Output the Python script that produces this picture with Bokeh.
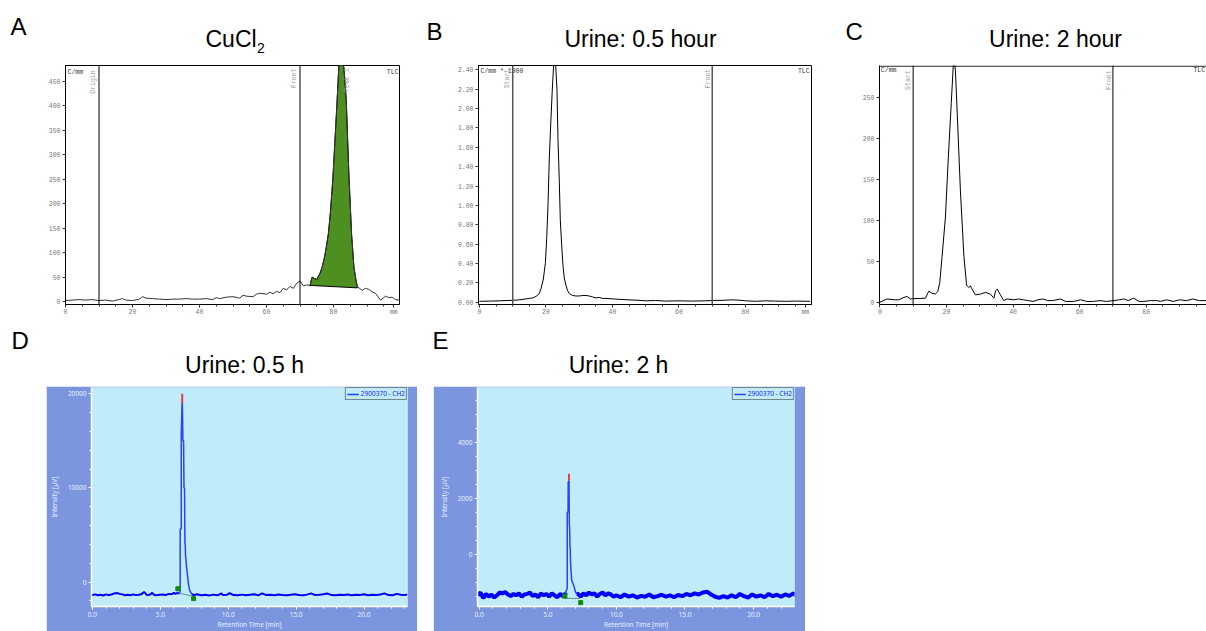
import math
from bokeh.plotting import figure
from bokeh.layouts import column, row
from bokeh.models import (Range1d, Span, FixedTicker, SingleIntervalTicker,
                          NumeralTickFormatter, Spacer)
from bokeh.core.properties import value
from bokeh.embed import file_html
from bokeh.resources import INLINE

# ---------------- data ----------------
panel_letters = ["A", "B", "C", "D", "E"]
panel_titles = ["CuCl", "Urine: 0.5 hour", "Urine: 2 hour", "Urine: 0.5 h", "Urine: 2 h"]
subscript = "2"

tlc_line_pos = [10, 70]
a_line_names = ["Origin", "Front"]
bc_line_names = ["Start", "Front"]

# Panel A (CuCl2 TLC scan)
a_x = [0, 2, 4, 6, 8, 10, 12, 14, 16, 17, 18, 20, 22, 23, 24, 26, 28, 30, 32, 34,
       36, 38, 40, 42, 44, 45, 46, 48, 50, 52, 53, 54, 56, 57, 58, 60, 61, 62, 63, 64,
       65, 66, 67, 68, 69, 70, 71, 72, 73]
a_y = [2, 3, 4, 3, 4, 2, 3, 1, 4, 6, 3, 2, 5, 10, 7, 6, 5, 4, 5, 5,
       6, 5, 5, 6, 4, 8, 6, 9, 10, 7, 13, 11, 10, 15, 17, 15, 19, 16, 21, 18,
       27, 24, 31, 27, 37, 42, 32, 34, 33]
a_peak_x = [73, 73.6, 74.3, 75, 76, 76.6, 77.3, 77.8, 78.5, 79.1, 79.8, 80.4, 81.0,
            81.6, 82.3, 83.1, 83.8, 84.6, 85.4, 86.1, 86.6, 87.1]
a_peak_y = [33, 50, 47, 45, 58, 70, 90, 109, 140, 184, 250, 325, 400,
            482, 490, 478, 412, 258, 137, 70, 48, 30]
a_tail_x = [87.1, 88, 88.6, 89.5, 90.5, 91.5, 92.5, 93.3, 94, 95, 95.5, 96.5, 97.5, 98.5, 99.7]
a_tail_y = [30, 26, 23, 27, 25, 20, 17, 10, 3, 8, 11, 8, 9, 4, 3]
a_base_x = [73, 87.1]
a_base_y = [33, 28]
a_peak_name = "Peak 1"
a_peak_center = 84.1

# Panel B (urine 0.5 h TLC scan, C/mm * 1000)
b_x = [0, 3, 6, 8, 10, 12, 14, 15, 16, 17, 18, 18.5, 19.2, 19.8, 20.2, 20.6, 21, 21.5,
       21.9, 22.3, 22.9, 23.3, 23.6, 24.0, 24.3, 24.7, 25.1, 25.5, 26, 26.5, 27, 28,
       29, 30, 31, 32, 33, 34, 35, 36, 37, 38, 40, 42, 45, 48, 50, 53, 56, 60, 64, 68,
       70, 73, 76, 78, 80, 83, 86, 89, 92, 95, 99.4]
b_y = [0.01, 0.012, 0.015, 0.018, 0.02, 0.025, 0.035, 0.04, 0.045, 0.06, 0.09, 0.14,
       0.24, 0.4, 0.65, 1.0, 1.49, 1.9, 2.2, 2.45, 2.45, 2.2, 1.69, 1.25, 0.85, 0.6,
       0.38, 0.25, 0.175, 0.12, 0.09, 0.07, 0.065, 0.065, 0.07, 0.07, 0.065, 0.055,
       0.045, 0.05, 0.04, 0.04, 0.035, 0.03, 0.025, 0.02, 0.015, 0.018, 0.012, 0.015,
       0.012, 0.015, 0.018, 0.02, 0.025, 0.022, 0.015, 0.01, 0.015, 0.012, 0.01, 0.012, 0.01]

# Panel C (urine 2 h TLC scan)
c_x = [0, 2.15, 4.2, 5.7, 7.25, 8.2, 9.2, 10.2, 11.75, 13.7, 14.7, 15.65, 16.65, 17.4,
       18.0, 18.7, 19.7, 20.55, 21.45, 22.2, 22.7, 23.4, 24.2, 25.25, 26.05, 26.7, 27.2,
       27.7, 28.7, 30.25, 31.7, 33.2, 34.25, 34.75, 35.25, 36.2, 37.2, 38.2, 40.15, 41.6,
       43.1, 44.55, 46, 47.5, 48.95, 50.4, 51.9, 54.25, 55.8, 58.25, 60.3, 62.15, 64.2,
       66.1, 68.05, 70.3, 71.95, 73.25, 74.6, 76.25, 77.85, 79.3, 81.25, 83.2, 84.2,
       86.15, 88.1, 90.05, 92.05, 94, 95.95, 98.1]
c_y = [0, 4, 3, 3, 6, 7, 4, 4.5, 4.5, 5, 13.5, 11, 10, 13, 24, 56, 104, 175, 243, 300,
       283, 215, 136, 56, 21, 18, 20, 16, 9, 10, 12, 10, 5, 14, 16, 9, 2, 4, 3, 4, 3, 2,
       1, 3, 4, 2, 2, 4, 1, 1, 3, 1, 1, 2, 1, 2, 3, 4, 2, 5, 1, 1, 2, 2, 1, 3, 1, 3, 2,
       4, 2, 2]

# Panel D (HPLC, urine 0.5 h)
d_pre_t = [-0.05, 0.2, 0.4, 0.6, 0.8, 1.0, 1.2, 1.4, 1.6, 1.8, 2.0, 2.2, 2.4, 2.6, 2.8,
           3.0, 3.2, 3.4, 3.6, 3.8, 3.9, 4.0, 4.2, 4.4, 4.5, 4.6, 4.8, 5.0, 5.2, 5.4,
           5.6, 5.8, 6.0, 6.1, 6.2, 6.3, 6.35]
d_pre_v = [-1400, -1300, -1400, -1350, -1420, -1300, -1380, -1320, -1200, -1150, -1250,
           -1300, -1400, -1350, -1400, -1300, -1380, -1350, -1300, -1050, -1200, -1380,
           -1350, -1150, -1300, -1400, -1380, -1350, -1320, -1380, -1250, -1300, -1150,
           -1250, -1200, -1100, -1250]
d_peak_t = [6.40, 6.46, 6.46, 6.54, 6.54, 6.60, 6.62, 6.66, 6.71, 6.74, 6.78, 6.81, 6.83,
            6.86, 6.88, 6.93, 6.98, 7.02, 7.07, 7.13, 7.20, 7.32]
d_peak_v = [-1150, -1000, 5600, 5700, 15700, 19000, 19000, 15000, 15000, 10000, 10000,
            4200, 4000, 2600, 2500, 1500, 1000, 400, -200, -700, -1000, -1250]
d_post_t = [7.45, 7.7, 8.0, 8.3, 8.6, 8.9, 9.2, 9.5, 9.6, 9.9, 10.1, 10.4, 10.7, 11.0,
            11.3, 11.6, 11.9, 12.2, 12.5, 12.8, 13.1, 13.4, 13.7, 14.0, 14.3, 14.6, 14.9,
            15.2, 15.5, 15.8, 16.1, 16.4, 16.7, 17.0, 17.3, 17.6, 17.9, 18.2, 18.5, 18.8,
            19.1, 19.4, 19.7, 20.0, 20.3, 20.6, 20.9, 21.2, 21.5, 21.8, 22.1, 22.4, 22.7,
            23.0, 23.2]
d_post_v = [-1380, -1300, -1400, -1350, -1420, -1330, -1400, -1200, -1380, -1350, -1180,
            -1380, -1400, -1330, -1400, -1350, -1300, -1400, -1200, -1380, -1350, -1400,
            -1320, -1380, -1400, -1350, -1300, -1380, -1400, -1330, -1200, -1380, -1350,
            -1300, -1200, -1380, -1400, -1350, -1380, -1320, -1400, -1350, -1380, -1300,
            -1400, -1350, -1380, -1320, -1200, -1380, -1400, -1250, -1350, -1380, -1300]
d_apex_t = [6.61]
d_apex_lo = [19000]
d_apex_hi = [20000]
d_mark_t = [6.29, 7.45]
d_mark_v = [-700, -1750]
d_base_t = [6.3, 7.42]
d_base_v = [-1150, -1500]

# Panel E (HPLC, urine 2 h)
e_pre_t = [-0.1, 0.1, 0.3, 0.5, 0.7, 0.9, 1.1, 1.3, 1.5, 1.7, 1.9, 2.1, 2.3, 2.5, 2.7,
           2.9, 3.1, 3.3, 3.5, 3.7, 3.9, 4.1, 4.3, 4.5, 4.7, 4.9, 5.1, 5.3, 5.5, 5.7,
           5.9, 6.1, 6.25]
e_pre_v = [-1450, -1350, -1550, -1400, -1500, -1420, -1530, -1450, -1350, -1380, -1330,
           -1420, -1480, -1400, -1450, -1380, -1500, -1420, -1400, -1350, -1480, -1420,
           -1520, -1380, -1450, -1400, -1500, -1380, -1450, -1520, -1400, -1480, -1450]
e_peak_t = [6.30, 6.37, 6.42, 6.42, 6.48, 6.49, 6.55, 6.57, 6.59, 6.62, 6.64, 6.66, 6.70,
            6.74, 6.78, 6.85, 6.92, 7.0, 7.1]
e_peak_v = [-1350, -1250, -1200, 1500, 1550, 2600, 2650, 1100, 1000, 250, 200, -300, -600,
            -900, -950, -1050, -1150, -1300, -1400]
e_post_t = [7.2, 7.4, 7.6, 7.8, 8.0, 8.2, 8.4, 8.6, 8.8, 9.0, 9.2, 9.4, 9.6, 9.8, 10.0,
            10.3, 10.6, 10.9, 11.2, 11.5, 11.8, 12.1, 12.4, 12.7, 13.0, 13.3, 13.6, 13.9,
            14.2, 14.5, 14.8, 15.1, 15.4, 15.7, 16.0, 16.3, 16.6, 16.9, 17.2, 17.5, 17.8,
            18.1, 18.4, 18.7, 19.0, 19.3, 19.6, 19.9, 20.2, 20.5, 20.8, 21.1, 21.4, 21.7,
            22.0, 22.3, 22.6, 22.9, 23.1]
e_post_v = [-1400, -1500, -1380, -1450, -1350, -1420, -1380, -1500, -1400, -1350, -1450,
            -1380, -1420, -1500, -1450, -1520, -1420, -1500, -1450, -1530, -1470, -1500,
            -1420, -1520, -1480, -1430, -1500, -1450, -1520, -1440, -1480, -1400, -1450,
            -1380, -1420, -1350, -1320, -1420, -1500, -1540, -1480, -1530, -1450, -1520,
            -1400, -1480, -1530, -1420, -1500, -1450, -1520, -1400, -1480, -1430, -1500,
            -1420, -1470, -1380, -1450]
e_apex_t = [6.55]
e_apex_lo = [2650]
e_apex_hi = [2900]
e_mark_t = [6.25, 7.4]
e_mark_v = [-1480, -1710]
e_base_t = [6.25, 7.35]
e_base_v = [-1560, -1560]

legend_name = "2900370 - CH2"

# ---------------- styles ----------------
SANS = "Liberation Sans"
MONO = "Liberation Mono"
TSANS = "Noto Sans"
OUTER_BLUE = "#7B96DF"
INNER_BLUE = "#C0ECFA"
PAGE_W = 1206


def header(height, y_top, y_bot):
    h = figure(width=PAGE_W, height=height, x_range=Range1d(0, PAGE_W),
               y_range=Range1d(y_bot, y_top), x_axis_location=None,
               y_axis_location=None, output_backend="svg", toolbar_location=None,
               min_border=0, title=None)
    h.grid.visible = False
    h.outline_line_color = None
    return h


def big_text(p, xs, ys, texts, size, align):
    p.text(x=xs, y=ys, text=texts, text_font=value(SANS), text_font_size=value(size),
           text_color="black", text_align=align, text_baseline="alphabetic")


def tlc(width, bl, br, bt, bb, xr, yr, yticks, xticks, xminor, overrides,
        yfmt=None, outline=True):
    p = figure(width=width, height=269, x_range=Range1d(*xr), y_range=Range1d(*yr),
               output_backend="svg", toolbar_location=None, title=None,
               min_border_left=bl, min_border_right=br, min_border_top=bt,
               min_border_bottom=bb)
    p.grid.visible = False
    p.outline_line_color = "black" if outline else None
    p.xaxis.ticker = FixedTicker(ticks=xticks, minor_ticks=xminor)
    p.xaxis.major_label_overrides = overrides
    p.yaxis.ticker = FixedTicker(ticks=yticks, minor_ticks=[])
    if yfmt:
        p.yaxis.formatter = NumeralTickFormatter(format=yfmt)
    for ax in (p.xaxis[0], p.yaxis[0]):
        ax.axis_line_color = "black"
        ax.major_tick_line_color = "#333333"
        ax.minor_tick_line_color = "#333333"
        ax.major_tick_in = 0
        ax.major_tick_out = 3
        ax.minor_tick_in = 0
        ax.minor_tick_out = 2
        ax.major_label_text_font = MONO
        ax.major_label_text_font_size = "6.5px"
        ax.major_label_text_color = "#777777"
        ax.major_label_standoff = 2
    p.xaxis.major_label_standoff = 1
    return p


def small_text(p, xs, ys, texts, align, baseline, color="#333333", angle=0.0):
    p.text(x=xs, y=ys, text=texts, text_font=value(MONO), text_font_size=value("6.5px"),
           text_color=color, text_align=align, text_baseline=baseline, angle=angle)


def add_lines(p, color, width):
    for pos in tlc_line_pos:
        p.add_layout(Span(location=pos, dimension="height", line_color=color,
                          line_width=width))


# ---------------- headers ----------------
hdr1 = header(56, 0, 56)
big_text(hdr1, [10], [26], [panel_letters[0]], "24px", "left")
big_text(hdr1, [426, 845], [31, 31], panel_letters[1:3], "24px", "left")
big_text(hdr1, [205], [38.5], [panel_titles[0]], "23px", "left")
big_text(hdr1, [256.5], [47], [subscript], "14px", "left")
big_text(hdr1, [640, 1055], [38.5, 38.5], panel_titles[1:3], "23px", "center")

hdr2 = header(61, 325, 386)
big_text(hdr2, [11, 432], [340, 340], panel_letters[3:5], "24px", "left")
big_text(hdr2, [244, 618], [364.5, 364.5], panel_titles[3:5], "23px", "center")

# ---------------- panel A ----------------
mm_minor = list(range(5, 100, 5))
pa = tlc(420, 65, 21, 9, 17, (0, 99.7), (-6, 482), list(range(0, 451, 50)),
         [0, 20, 40, 60, 80, 98], mm_minor, {98: "mm"})
add_lines(pa, "black", 1)
pa.patch(a_peak_x + a_base_x[::-1], a_peak_y + a_base_y[::-1],
         fill_color="#4E8F22", line_color="black", line_width=1)
pa.line(a_x + a_peak_x[1:] + a_tail_x[1:], a_y + a_peak_y[1:] + a_tail_y[1:],
        line_color="#333333", line_width=1)
small_text(pa, [0.6], [474], ["C/mm"], "left", "top")
small_text(pa, [99.4], [474], ["TLC"], "right", "top")
small_text(pa, [8.46, 68.5, a_peak_center], [472, 476, 476],
           a_line_names + [a_peak_name], "right", "middle", "#9a9a9a", math.pi / 2)

# ---------------- panel B ----------------
pb = tlc(415, 58, 24, 8, 17, (-0.3, 99.85), (-0.023, 2.444),
         [0, 0.2, 0.4, 0.6, 0.8, 1.0, 1.2, 1.4, 1.6, 1.8, 2.0, 2.2, 2.4],
         [0, 20, 40, 60, 80, 98], mm_minor, {98: "mm"}, yfmt="0.00")
add_lines(pb, "#555555", 1.5)
pb.line(b_x, b_y, line_color="black", line_width=1)
small_text(pb, [0.3], [2.42], ["C/mm * 1000"], "left", "top")
small_text(pb, [99.3], [2.42], ["TLC"], "right", "top")
small_text(pb, [8.5, 68.9], [2.41, 2.41], bc_line_names, "right", "middle",
           "#9a9a9a", math.pi / 2)

# ---------------- panel C ----------------
pc = tlc(371, 44, 0, 4, 21, (-0.1, 98.1), (-2.75, 289), list(range(0, 251, 50)),
         [0, 20, 40, 60, 80], mm_minor, {}, outline=False)
pc.add_layout(Span(location=288.2, dimension="width", line_color="black", line_width=1))
add_lines(pc, "black", 1)
pc.line(c_x, c_y, line_color="black", line_width=1)
small_text(pc, [0.3], [287], ["C/mm"], "left", "top")
small_text(pc, [97.7], [287], ["TLC"], "right", "top")
small_text(pc, [8.7, 69.1], [283, 283], bc_line_names, "right", "middle",
           "#9a9a9a", math.pi / 2)


# ---------------- panels D / E ----------------
def hplc(width, bl, br, xr, yr, y_interval, y_minor):
    p = figure(width=width, height=245, x_range=Range1d(*xr), y_range=Range1d(*yr),
               output_backend="svg", toolbar_location=None, title=None,
               min_border_left=bl, min_border_right=br, min_border_top=1,
               min_border_bottom=21)
    p.background_fill_color = INNER_BLUE
    p.border_fill_color = OUTER_BLUE
    p.outline_line_color = None
    p.grid.visible = False
    p.xaxis.ticker = SingleIntervalTicker(interval=5, num_minor_ticks=5)
    p.xaxis.formatter = NumeralTickFormatter(format="0.0")
    p.yaxis.ticker = SingleIntervalTicker(interval=y_interval, num_minor_ticks=y_minor)
    p.xaxis.axis_label = "Retention Time [min]"
    p.yaxis.axis_label = "Intensity [µV]"
    for ax in (p.xaxis[0], p.yaxis[0]):
        ax.axis_line_color = "white"
        ax.axis_line_width = 1.5
        ax.major_tick_line_color = "white"
        ax.minor_tick_line_color = "white"
        ax.major_tick_in = 0
        ax.major_tick_out = 3
        ax.minor_tick_in = 0
        ax.minor_tick_out = 2
        ax.major_label_text_font = TSANS
        ax.major_label_text_font_size = "6.5px"
        ax.major_label_text_color = "#E8EEFF"
        ax.major_label_standoff = 2
        ax.axis_label_text_font = TSANS
        ax.axis_label_text_font_size = "6.5px"
        ax.axis_label_text_font_style = "normal"
        ax.axis_label_text_color = "#E8EEFF"
    p.xaxis.major_label_standoff = 2
    p.xaxis.axis_label_standoff = 0
    p.yaxis.axis_label_standoff = 6
    return p


def draw_hplc(p, pre_t, pre_v, pk_t, pk_v, post_t, post_v, base_w,
              apex_t, apex_lo, apex_hi, mark_t, mark_v, base_t, base_v):
    p.line(pre_t + pk_t[:1], pre_v + pk_v[:1], line_color="#0000FF", line_width=base_w)
    p.line(pk_t[-1:] + post_t, pk_v[-1:] + post_v, line_color="#0000FF", line_width=base_w)
    p.line(base_t, base_v, line_color="#5F8F8F", line_width=1)
    p.line(pk_t, pk_v, line_color="#2244FF", line_width=1.5, legend_label=legend_name)
    p.segment(x0=apex_t, y0=apex_lo, x1=apex_t, y1=apex_hi, line_color="#E04040",
              line_width=2)
    p.scatter(mark_t, mark_v, marker="square", size=4, color="#108A10")
    lg = p.legend[0]
    lg.location = "top_right"
    lg.margin = 0
    lg.padding = 1
    lg.spacing = 0
    lg.border_line_color = "#222222"
    lg.border_line_width = 1.5
    lg.background_fill_color = INNER_BLUE
    lg.label_text_font = TSANS
    lg.label_text_font_size = "6.5px"
    lg.label_text_color = "#2222FF"
    lg.label_height = 6
    lg.glyph_height = 6
    lg.glyph_width = 12
    lg.label_standoff = 2


pd = hplc(371, 43, 10, (-0.07, 23.2), (-2590, 20660), 10000, 5)
draw_hplc(pd, d_pre_t, d_pre_v, d_peak_t, d_peak_v, d_post_t, d_post_v, 2,
          d_apex_t, d_apex_lo, d_apex_hi, d_mark_t, d_mark_v, d_base_t, d_base_v)

pe = hplc(372, 44, 11, (-0.12, 22.98), (-1850, 5980), 2000, 4)
draw_hplc(pe, e_pre_t, e_pre_v, e_peak_t, e_peak_v, e_post_t, e_post_v, 4,
          e_apex_t, e_apex_lo, e_apex_hi, e_mark_t, e_mark_v, e_base_t, e_base_v)

layout = column(
    hdr1,
    row(pa, pb, pc),
    hdr2,
    row(Spacer(width=46, height=245), pd, Spacer(width=16, height=245), pe),
)

open("out.html", "w").write(file_html(layout, INLINE, title="TLC and HPLC"))
